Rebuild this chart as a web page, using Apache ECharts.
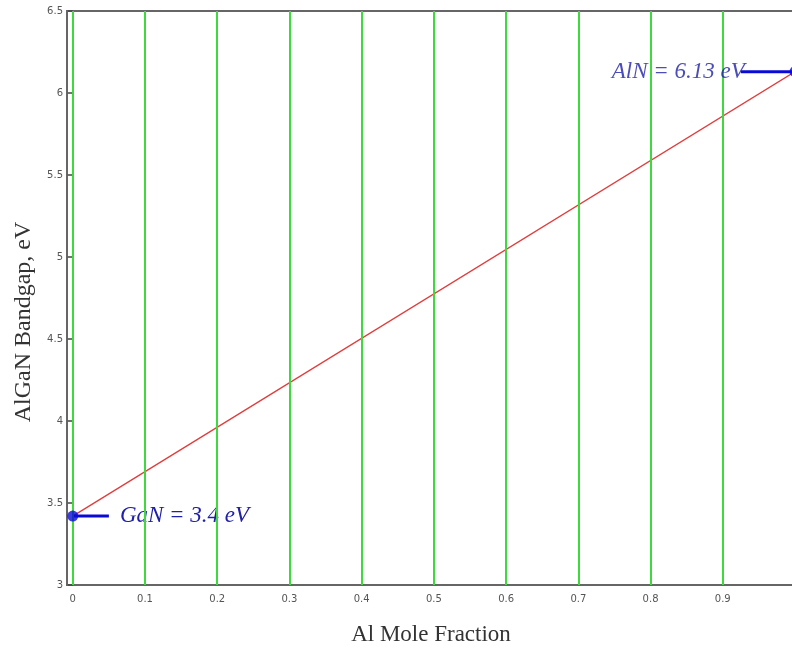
<!DOCTYPE html>
<html>
<head>
<meta charset="utf-8">
<script src="https://cdn.jsdelivr.net/npm/echarts@6/dist/echarts.min.js"></script>
<style>
  html, body {margin: 0; padding: 0; background: #fff;}
  #main {width: 792px; height: 648px;}
</style>
</head>
<body>
<div id="main"></div>
<script>
//数据
var xTicks = [0, 0.1, 0.2, 0.3, 0.4, 0.5, 0.6, 0.7, 0.8, 0.9];
var gridX = [0, 0.1, 0.2, 0.3, 0.4, 0.5, 0.6, 0.7, 0.8, 0.9, 1.0];
var bandgapLine = [[0, 3.42], [1, 6.13]];
var ganPoint = [0, 3.42];
var alnPoint = [1, 6.13];
var ganArrow = [[0, 3.42], [0.05, 3.42]];
var alnArrow = [[0.925, 6.13], [1, 6.13]];
var ganText = 'GaN = 3.4 eV';
var alnText = 'AlN = 6.13 eV';

var chart = echarts.init(document.getElementById('main'));

var option = {
    backgroundColor: '#fff',
    animation: false,
    grid: {
        left: 67,
        top: 11,
        right: -3,
        bottom: 63,
        outerBoundsMode: 'none',
        containLabel: false,
        show: true,
        borderColor: '#666',
        borderWidth: 2
    },
    xAxis: {
        type: 'value',
        min: -0.008,
        max: 1.0,
        name: 'Al Mole Fraction',
        nameLocation: 'middle',
        nameGap: 38,
        nameTextStyle: {fontFamily: 'Liberation Serif', fontSize: 23, color: '#333'},
        axisLine: {show: true, lineStyle: {color: '#666', width: 2}},
        axisTick: {show: false},
        splitLine: {show: false},
        axisLabel: {
            customValues: xTicks,
            color: '#555',
            fontSize: 10,
            fontFamily: 'DejaVu Sans',
            margin: 9
        }
    },
    yAxis: {
        type: 'value',
        min: 3,
        max: 6.5,
        interval: 0.5,
        name: 'AlGaN Bandgap, eV',
        nameLocation: 'middle',
        nameGap: 29,
        nameTextStyle: {
            fontFamily: 'Liberation Serif',
            fontSize: 24,
            color: '#333',
            padding: [0, 48, 0, 0]
        },
        axisLine: {show: true, lineStyle: {color: '#666', width: 2}},
        axisTick: {show: true, length: 5, lineStyle: {color: '#444', width: 1.5}},
        splitLine: {show: false},
        axisLabel: {color: '#555', fontSize: 10, fontFamily: 'DejaVu Sans', margin: 4}
    },
    series: [
        {
            name: 'grid',
            type: 'line',
            data: [],
            markLine: {
                silent: true,
                symbol: 'none',
                label: {show: false},
                lineStyle: {color: '#3fd83f', width: 2, type: 'solid'},
                data: gridX.map(function (v) {
                    return {xAxis: v};
                })
            }
        },
        {
            name: 'bandgap',
            type: 'line',
            data: bandgapLine,
            symbol: 'none',
            lineStyle: {color: '#e23b3b', width: 1.3},
            z: 3
        },
        {
            name: 'gan',
            type: 'line',
            data: ganArrow,
            symbol: 'none',
            lineStyle: {color: '#0a0ad8', width: 3},
            endLabel: {
                show: true,
                formatter: ganText,
                color: '#2020a8',
                fontFamily: 'Liberation Serif',
                fontStyle: 'italic',
                fontSize: 23,
                distance: 11
            },
            z: 4
        },
        {
            name: 'aln',
            type: 'line',
            data: alnArrow,
            symbol: 'none',
            lineStyle: {color: '#0a0ad8', width: 3},
            label: {show: false},
            z: 4
        },
        {
            name: 'alnLabel',
            type: 'scatter',
            data: [alnArrow[0]],
            symbolSize: 0,
            label: {
                show: true,
                position: 'left',
                formatter: alnText,
                color: '#2020a8',
                fontFamily: 'Liberation Serif',
                fontStyle: 'italic',
                fontSize: 23,
                distance: -4
            },
            z: 5
        },
        {
            name: 'points',
            type: 'scatter',
            data: [ganPoint, alnPoint],
            symbol: 'circle',
            symbolSize: 11,
            itemStyle: {color: '#0a0ad8'},
            z: 6
        }
    ]
};

chart.setOption(option);
</script>
</body>
</html>
